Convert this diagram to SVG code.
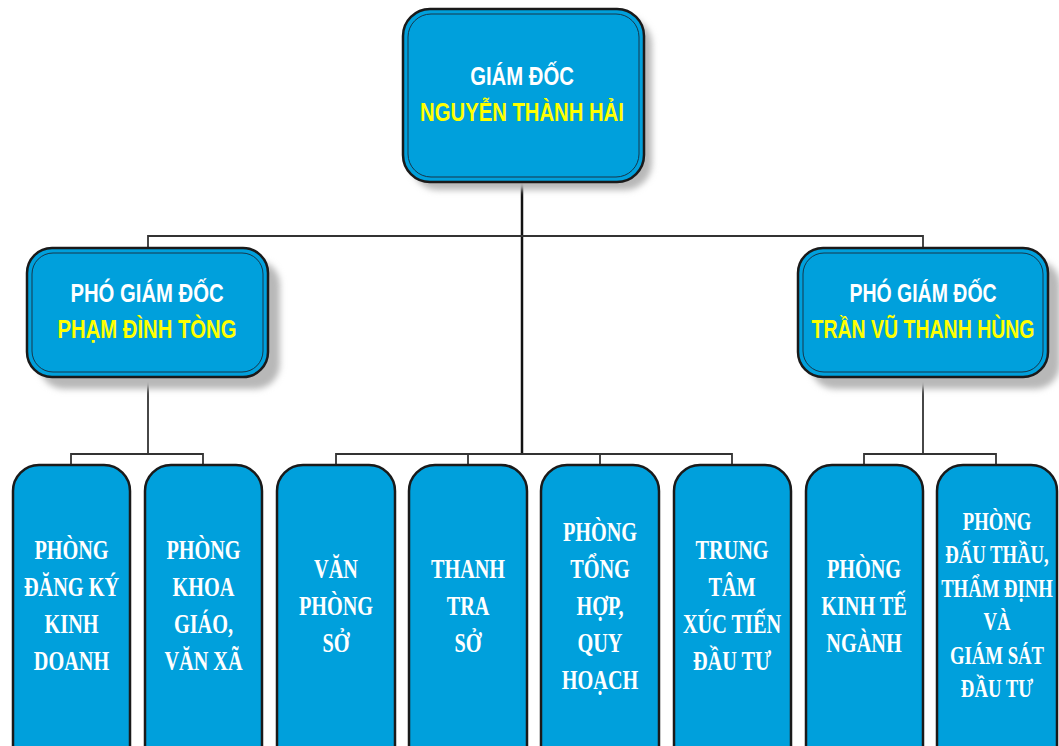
<svg xmlns="http://www.w3.org/2000/svg" width="1059" height="746" viewBox="0 0 1059 746">
<defs>
<filter id="sh" x="-20%" y="-20%" width="140%" height="140%">
<feGaussianBlur stdDeviation="3"/>
</filter>
</defs>
<style>
.box{fill:#00a0dc;stroke:#1a1a1a;stroke-width:2.5}
.inner{fill:none;stroke:#16364a;stroke-width:1}
.shadow{fill:#b8b8b8;filter:url(#sh)}
.hd{font-family:"Liberation Sans",Arial,sans-serif;font-weight:bold;font-size:26px;text-anchor:middle}
.w{fill:#ffffff}
.y{fill:#ffff00}
.bt{font-family:"Liberation Serif","Times New Roman",serif;font-weight:bold;font-size:27px;fill:#ffffff;text-anchor:middle}
.ln{stroke:#333333;stroke-width:1.8;fill:none}
.lnb{stroke:#111111;stroke-width:2.5;fill:none}
</style>
<rect width="1059" height="746" fill="#ffffff"/>

<g id="connectors">
<line class="lnb" x1="522" y1="182" x2="522" y2="455"/>
<polyline class="ln" points="148,248 148,236 923,236 923,248"/>
<line class="ln" x1="148" y1="377" x2="148" y2="454"/>
<polyline class="ln" points="71,465 71,454 203,454 203,465"/>
<polyline class="ln" points="336,465 336,454 732,454 732,465"/>
<line class="ln" x1="468" y1="454" x2="468" y2="465"/>
<line class="ln" x1="600" y1="454" x2="600" y2="465"/>
<line class="ln" x1="923" y1="377" x2="923" y2="454"/>
<polyline class="ln" points="864,465 864,454 996,454 996,465"/>
</g>

<g id="giam-doc">
<rect class="shadow" x="411" y="17" width="241" height="173" rx="27"/>
<rect class="box" x="403" y="9" width="241" height="173" rx="27"/>
<rect class="inner" x="408" y="14" width="231" height="163" rx="23"/>
<g transform="translate(522,0) scale(0.78,1)">
<text class="hd w" x="0" y="85">GIÁM ĐỐC</text>
<text class="hd y" x="0" y="121">NGUYỄN THÀNH HẢI</text>
</g>
</g>

<g id="pho-giam-doc-1">
<rect class="shadow" x="39" y="260" width="241" height="129" rx="25"/>
<rect class="box" x="27" y="248" width="241" height="129" rx="25"/>
<rect class="inner" x="32" y="253" width="231" height="119" rx="21"/>
<g transform="translate(147,0) scale(0.78,1)">
<text class="hd w" x="0" y="302">PHÓ GIÁM ĐỐC</text>
<text class="hd y" x="0" y="338">PHẠM ĐÌNH TÒNG</text>
</g>
</g>

<g id="pho-giam-doc-2">
<rect class="shadow" x="810" y="260" width="250" height="129" rx="25"/>
<rect class="box" x="798" y="248" width="250" height="129" rx="25"/>
<rect class="inner" x="803" y="253" width="240" height="119" rx="21"/>
<g transform="translate(923,0) scale(0.75,1)">
<text class="hd w" x="0" y="302">PHÓ GIÁM ĐỐC</text>
<text class="hd y" x="0" y="338">TRẦN VŨ THANH HÙNG</text>
</g>
</g>

<g id="phong-dang-ky">
<rect class="box" x="13" y="465" width="117" height="310" rx="26"/>
<g transform="translate(71.5,0) scale(0.75,1)">
<text class="bt" x="0" y="559">PHÒNG</text>
<text class="bt" x="0" y="596">ĐĂNG KÝ</text>
<text class="bt" x="0" y="633">KINH</text>
<text class="bt" x="0" y="670">DOANH</text>
</g>
</g>

<g id="phong-khoa-giao">
<rect class="box" x="145" y="465" width="117" height="310" rx="26"/>
<g transform="translate(203.5,0) scale(0.75,1)">
<text class="bt" x="0" y="559">PHÒNG</text>
<text class="bt" x="0" y="596">KHOA</text>
<text class="bt" x="0" y="633">GIÁO,</text>
<text class="bt" x="0" y="670">VĂN XÃ</text>
</g>
</g>

<g id="van-phong-so">
<rect class="box" x="277" y="465" width="118" height="310" rx="26"/>
<g transform="translate(336,0) scale(0.75,1)">
<text class="bt" x="0" y="578">VĂN</text>
<text class="bt" x="0" y="615">PHÒNG</text>
<text class="bt" x="0" y="652">SỞ</text>
</g>
</g>

<g id="thanh-tra-so">
<rect class="box" x="409" y="465" width="118" height="310" rx="26"/>
<g transform="translate(468,0) scale(0.75,1)">
<text class="bt" x="0" y="578">THANH</text>
<text class="bt" x="0" y="615">TRA</text>
<text class="bt" x="0" y="652">SỞ</text>
</g>
</g>

<g id="phong-tong-hop">
<rect class="box" x="541" y="465" width="118" height="310" rx="26"/>
<g transform="translate(600,0) scale(0.75,1)">
<text class="bt" x="0" y="541">PHÒNG</text>
<text class="bt" x="0" y="578">TỔNG</text>
<text class="bt" x="0" y="615">HỢP,</text>
<text class="bt" x="0" y="652">QUY</text>
<text class="bt" x="0" y="689">HOẠCH</text>
</g>
</g>

<g id="trung-tam">
<rect class="box" x="674" y="465" width="117" height="310" rx="26"/>
<g transform="translate(732,0) scale(0.75,1)">
<text class="bt" x="0" y="559">TRUNG</text>
<text class="bt" x="0" y="596">TÂM</text>
<text class="bt" x="0" y="633">XÚC TIẾN</text>
<text class="bt" x="0" y="670">ĐẦU TƯ</text>
</g>
</g>

<g id="phong-kinh-te">
<rect class="box" x="806" y="465" width="117" height="310" rx="26"/>
<g transform="translate(864,0) scale(0.75,1)">
<text class="bt" x="0" y="578">PHÒNG</text>
<text class="bt" x="0" y="615">KINH TẾ</text>
<text class="bt" x="0" y="652">NGÀNH</text>
</g>
</g>

<g id="phong-dau-thau">
<rect class="box" x="937" y="465" width="120" height="310" rx="26"/>
<g transform="translate(997,0) scale(0.72,1)">
<text class="bt" x="0" y="530" style="font-size:26px">PHÒNG</text>
<text class="bt" x="0" y="563" style="font-size:26px">ĐẤU THẦU,</text>
<text class="bt" x="0" y="597" style="font-size:26px">THẨM ĐỊNH</text>
<text class="bt" x="0" y="630" style="font-size:26px">VÀ</text>
<text class="bt" x="0" y="664" style="font-size:26px">GIÁM SÁT</text>
<text class="bt" x="0" y="697" style="font-size:26px">ĐẦU TƯ</text>
</g>
</g>
</svg>
